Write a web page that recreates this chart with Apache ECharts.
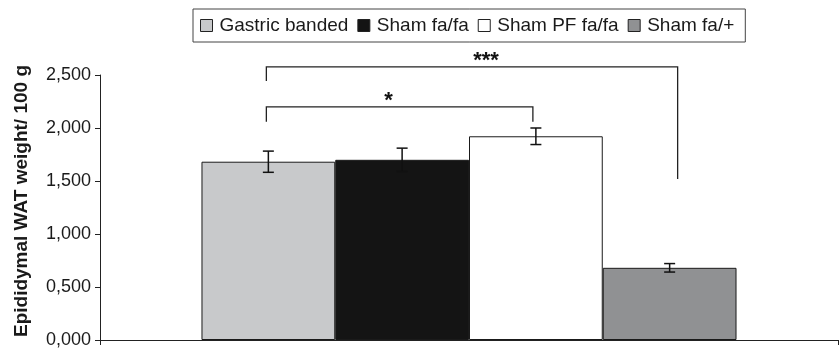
<!DOCTYPE html>
<html>
<head>
<meta charset="utf-8">
<script src="https://cdn.jsdelivr.net/npm/echarts@6/dist/echarts.min.js"></script>
<style>
html,body{margin:0;padding:0;background:#fff;}
#chart{width:839px;height:349px;}
</style>
</head>
<body>
<div id="chart"></div>
<script>
// ---- data ----
var groups = ['Gastric banded', 'Sham fa/fa', 'Sham PF fa/fa', 'Sham fa/+'];
var means = [1.682, 1.700, 1.922, 0.681];
var errors = [0.100, 0.110, 0.078, 0.040];
var yTicks = [0, 0.5, 1.0, 1.5, 2.0, 2.5];
var category = ['Epididymal WAT'];
// significance brackets: [fromGroup, toGroup, topValue, leftLegEnd, rightLegEnd, label]
var brackets = [
  [0, 2, 2.199, 2.059, 2.059, '*'],
  [0, 3, 2.577, 2.444, 1.520, '***']
];

// ---- styling ----
var colors = ['#c8c9cb', '#141414', '#ffffff', '#909193'];
var GAP = 0.275; // barCategoryGap fraction
var bracketStyle = [
  {labelDx: -11, rightDx: -3},
  {labelDx: 14, rightDx: 8}
];

function barCenter(api, gi) {
  var band = api.size([1, 0])[0];
  var bw = band * (1 - GAP) / groups.length;
  var cx = api.coord([0, 0])[0];
  return cx - bw * groups.length / 2 + (gi + 0.5) * bw;
}

var chart = echarts.init(document.getElementById('chart'), null, {renderer: 'canvas'});

var series = groups.map(function (g, i) {
  return {
    name: g,
    type: 'bar',
    data: [means[i]],
    barGap: '0%',
    barCategoryGap: (GAP * 100) + '%',
    itemStyle: {color: colors[i], borderColor: '#1a1a1a', borderWidth: 1},
    emphasis: {disabled: true},
    z: 2
  };
});

series.push({
  type: 'custom',
  name: 'err',
  z: 5,
  silent: true,
  data: means.map(function (m, i) { return [0, m, errors[i], i]; }),
  renderItem: function (params, api) {
    var gi = api.value(3);
    var m = api.value(1), e = api.value(2);
    var x = barCenter(api, gi);
    var yt = api.coord([0, m + e])[1];
    var yb = api.coord([0, m - e])[1];
    var cap = 5.5;
    var st = {stroke: '#111', lineWidth: 1.5};
    return {
      type: 'group',
      children: [
        {type: 'line', shape: {x1: x, y1: yt, x2: x, y2: yb}, style: st},
        {type: 'line', shape: {x1: x - cap, y1: yt, x2: x + cap, y2: yt}, style: st},
        {type: 'line', shape: {x1: x - cap, y1: yb, x2: x + cap, y2: yb}, style: st}
      ]
    };
  }
});

series.push({
  type: 'custom',
  name: 'sig',
  z: 6,
  silent: true,
  clip: false,
  data: brackets.map(function (b) { return [0, b[2], b[0], b[1], b[3]]; }),
  renderItem: function (params, api) {
    var b = brackets[params.dataIndex];
    var s = bracketStyle[params.dataIndex];
    var x1 = barCenter(api, b[0]) - 2;
    var x2 = barCenter(api, b[1]) + s.rightDx;
    var yTop = api.coord([0, b[2]])[1];
    var yL = api.coord([0, b[3]])[1];
    var yR = api.coord([0, b[4]])[1];
    var st = {stroke: '#222', lineWidth: 1.3, fill: null};
    return {
      type: 'group',
      children: [
        {type: 'polyline', shape: {points: [[x1, yL], [x1, yTop], [x2, yTop], [x2, yR]]}, style: st},
        {type: 'text', style: {text: b[5], x: (x1 + x2) / 2 + s.labelDx, y: yTop + 5, align: 'center', verticalAlign: 'bottom',
          font: 'bold 22px "Liberation Sans", Arial, sans-serif', fill: '#111'}}
      ]
    };
  }
});

var option = {
  animation: false,
  backgroundColor: '#fff',
  textStyle: {fontFamily: '"Liberation Sans", Arial, sans-serif'},
  legend: {
    data: groups,
    left: 193,
    top: 9,
    padding: [6, 11, 6, 7],
    borderColor: '#444',
    borderWidth: 1,
    itemGap: 9,
    itemWidth: 12,
    itemHeight: 12,
    icon: 'rect',
    itemStyle: {borderColor: '#222', borderWidth: 1},
    textStyle: {fontSize: 19, color: '#1a1a1a', lineHeight: 21, padding: [0, 0, 0, 2]},
    selectedMode: false
  },
  grid: {left: 100, right: 1, top: 75, bottom: 6, containLabel: false},
  xAxis: {
    type: 'category',
    data: category,
    axisLine: {lineStyle: {color: '#222', width: 1}},
    axisTick: {show: true, length: 5, lineStyle: {color: '#222'}},
    axisLabel: {show: false}
  },
  yAxis: {
    type: 'value',
    min: yTicks[0],
    max: yTicks[yTicks.length - 1],
    interval: yTicks[1] - yTicks[0],
    axisLine: {show: true, lineStyle: {color: '#222', width: 1}},
    axisTick: {show: true, length: 5, lineStyle: {color: '#222'}},
    splitLine: {show: false},
    axisLabel: {
      fontSize: 18,
      color: '#1a1a1a',
      margin: 9,
      formatter: function (v) { return v.toFixed(3).replace('.', ','); }
    }
  },
  graphic: [{
    type: 'text',
    x: 22,
    y: 201,
    rotation: Math.PI / 2,
    style: {
      text: 'Epididymal WAT weight/ 100 g',
      align: 'center',
      verticalAlign: 'middle',
      font: 'bold 19px "Liberation Sans", Arial, sans-serif',
      fill: '#1a1a1a'
    }
  }],
  series: series
};
chart.setOption(option);
</script>
</body>
</html>
